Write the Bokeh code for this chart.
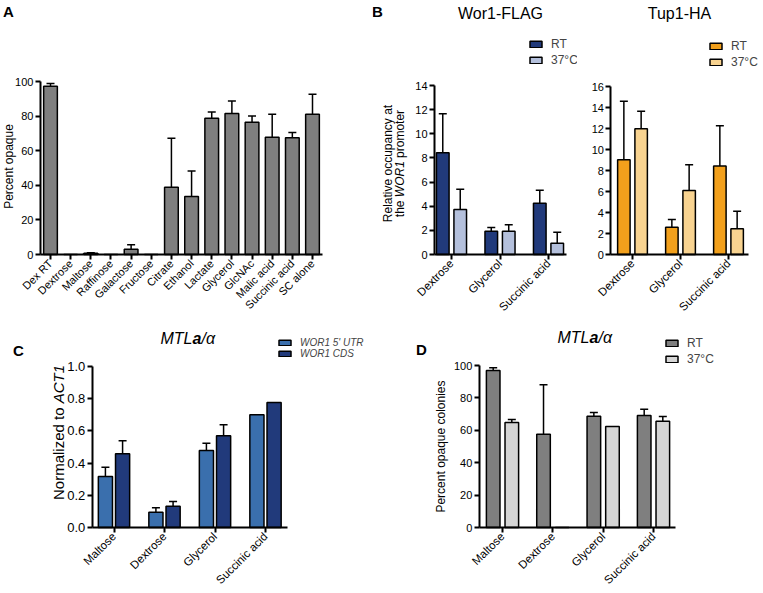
import numpy as np
from bokeh.plotting import figure
from bokeh.models import (Range1d, FixedTicker, Whisker, TeeHead, ColumnDataSource,
                          Legend, LegendItem, Label, NumeralTickFormatter)
from bokeh.layouts import row, column
from bokeh.embed import file_html
from bokeh.resources import INLINE

FONT = "Liberation Sans"

# ---------------- data ----------------
# Panel A
a_cats = ["Dex RT", "Dextrose", "Maltose", "Raffinose", "Galactose", "Fructose", "Citrate",
          "Ethanol", "Lactate", "Glycerol", "GlcNAc", "Malic acid", "Succinic acid", "SC alone"]
a_mean = [97.3, 0, 0.7, 0, 3.0, 0, 38.9, 33.5, 78.8, 81.5, 76.5, 67.8, 67.5, 81.1]
a_err = [1.5, 0, 0.3, 0, 2.6, 0, 28.3, 14.7, 3.5, 7.3, 3.5, 13.3, 3.0, 11.6]
a_yticks = [0, 20, 40, 60, 80, 100]

# Panel B
b_cats = ["Dextrose", "Glycerol", "Succinic acid"]
b_series = ["RT", "37°C"]
wor1_rt = [8.43, 1.93, 4.25]
wor1_rt_err = [3.23, 0.31, 1.08]
wor1_37 = [3.73, 1.93, 0.94]
wor1_37_err = [1.68, 0.53, 0.91]
tup1_rt = [9.02, 2.60, 8.44]
tup1_rt_err = [5.58, 0.73, 3.82]
tup1_37 = [11.97, 6.10, 2.45]
tup1_37_err = [1.68, 2.44, 1.67]
b1_yticks = [0, 2, 4, 6, 8, 10, 12, 14]
b2_yticks = [0, 2, 4, 6, 8, 10, 12, 14, 16]

# Panel C
c_cats = ["Maltose", "Dextrose", "Glycerol", "Succinic acid"]
c_series = ["WOR1 5' UTR", "WOR1 CDS"]
c_utr = [0.317, 0.095, 0.478, 0.700]
c_utr_err = [0.058, 0.027, 0.046, 0]
c_cds = [0.458, 0.132, 0.570, 0.776]
c_cds_err = [0.081, 0.029, 0.068, 0]
c_yticks = [0.0, 0.2, 0.4, 0.6, 0.8, 1.0]

# Panel D
d_cats = ["Maltose", "Dextrose", "Glycerol", "Succinic acid"]
d_series = ["RT", "37°C"]
d_rt = [96.9, 57.6, 68.7, 69.1]
d_rt_err = [1.7, 30.5, 2.3, 3.9]
d_37 = [64.8, 0, 62.3, 65.6]
d_37_err = [1.9, 0, 0, 2.9]
d_yticks = [0, 20, 40, 60, 80, 100]

# colours
GRAY = "#7f7f7f"
NAVY = "#213a7b"
LIGHT_BLUE = "#b4c0dc"
ORANGE = "#f2a01c"
LIGHT_ORANGE = "#f8d390"
MID_BLUE = "#3a6fad"
LIGHT_GRAY = "#d5d5d5"


class Panel:
    """A figure whose frame fills its whole box; page coordinates are used for placement."""

    def __init__(self, left, top, right, bottom, x_anchor, y_anchor, x_bounds, y_max,
                 yticks, cats, ytick_size="11px", xtick_size="11px"):
        self.left, self.top, self.right, self.bottom = left, top, right, bottom
        w, h = right - left, bottom - top
        (xa, pxa), (xb, pxb) = x_anchor
        sx = (pxb - pxa) / (xb - xa)
        x0 = xa - (pxa - left) / sx
        py0, py1 = y_anchor
        sy = (py0 - py1) / y_max
        y0 = -(bottom - py0) / sy
        p = figure(width=w, height=h, x_range=Range1d(x0, x0 + w / sx),
                   y_range=Range1d(y0, y0 + h / sy),
                   output_backend="svg", toolbar_location=None,
                   min_border_left=0, min_border_right=0,
                   min_border_top=0, min_border_bottom=0)
        p.outline_line_color = None
        p.xgrid.visible = False
        p.ygrid.visible = False
        for ax in (p.xaxis[0], p.yaxis[0]):
            ax.axis_line_width = 2
            ax.axis_line_color = "black"
            ax.major_tick_line_width = 2
            ax.major_tick_line_color = "black"
            ax.major_tick_out = 5
            ax.major_tick_in = 0
            ax.minor_tick_line_color = None
            ax.major_label_text_font = FONT
            ax.major_label_text_color = "black"
            ax.axis_label_text_font = FONT
            ax.axis_label_text_font_style = "normal"
            ax.axis_label_text_color = "black"
            ax.major_label_standoff = 2
        p.yaxis.fixed_location = x_bounds[0]
        p.yaxis.bounds = (0, y_max)
        p.yaxis.ticker = FixedTicker(ticks=yticks)
        p.yaxis.major_label_text_font_size = ytick_size
        p.xaxis.fixed_location = 0
        p.xaxis.bounds = x_bounds
        p.xaxis.ticker = FixedTicker(ticks=list(range(len(cats))))
        p.xaxis.major_label_overrides = {i: c for i, c in enumerate(cats)}
        p.xaxis.major_label_orientation = np.pi / 4
        p.xaxis.major_label_text_font_size = xtick_size
        self.p = p

    def bars(self, xs, vals, errs, width, color):
        p = self.p
        src = ColumnDataSource(dict(x=list(xs), top=list(vals)))
        r = p.vbar(x="x", top="top", width=width, bottom=0, source=src,
                   fill_color=color, line_color="black", line_width=1.5)
        keep = [e > 0 for e in errs]
        wsrc = ColumnDataSource(dict(
            x=[x for x, k in zip(xs, keep) if k],
            lo=[v for v, k in zip(vals, keep) if k],
            hi=[v + e for v, e, k in zip(vals, errs, keep) if k]))
        w = Whisker(source=wsrc, base="x", lower="lo", upper="hi", dimension="height",
                    line_width=1.5, line_color="black",
                    upper_head=TeeHead(size=8, line_width=1.5, line_color="black"),
                    lower_head=None, level="glyph")
        p.add_layout(w)
        return r

    def text(self, px, py, text, size, style="normal", align="left", angle=0.0):
        self.p.add_layout(Label(x=px - self.left, y=self.bottom - py,
                                x_units="screen", y_units="screen", text=text,
                                text_font=FONT, text_font_size=size, text_font_style=style,
                                text_align=align, text_baseline="middle", angle=angle,
                                text_color="black"))

    def legend(self, renderers, labels, px, py_bottom, size="12px", style="normal",
               gw=15, gh=8, lh=13, spacing=3):
        items = [LegendItem(label=l, renderers=[r]) for l, r in zip(labels, renderers)]
        leg = Legend(items=items, location=(px - self.left, self.bottom - py_bottom),
                     glyph_width=gw, glyph_height=gh, label_height=lh, label_standoff=8,
                     spacing=spacing, padding=0, margin=0, border_line_color=None,
                     background_fill_alpha=0, label_text_font=FONT,
                     label_text_font_size=size, label_text_font_style=style)
        self.p.add_layout(leg)


ROT = np.pi / 2

# ---------------- Panel A ----------------
A = Panel(0, 0, 372, 325, ((0, 50), (13, 312)), (254, 81), (-0.5, 13.5), 100,
          a_yticks, a_cats)
xa = np.arange(len(a_cats))
A.bars(xa, a_mean, a_err, 0.68, GRAY)
A.text(8, 166, "Percent opaque", "12px", align="center", angle=ROT)
A.text(8, 11, "A", "15px", style="bold", align="center")

# ---------------- Panel B (Wor1-FLAG) ----------------
B1 = Panel(372, 0, 577, 325, ((0, 451), (2, 548)), (254, 85), (-0.35, 2.37), 14,
           b1_yticks, b_cats, xtick_size="11.5px")
xb = np.arange(len(b_cats))
r1 = B1.bars(xb - 0.18, wor1_rt, wor1_rt_err, 0.26, NAVY)
r2 = B1.bars(xb + 0.18, wor1_37, wor1_37_err, 0.26, LIGHT_BLUE)
B1.legend([r1, r2], b_series, 528, 67, lh=13, spacing=2)
B1.text(500, 13, "Wor1-FLAG", "16px", align="center")
B1.text(377, 11, "B", "15px", style="bold", align="center")
B1.text(387, 163, "Relative occupancy at", "12px", align="center", angle=ROT)
B1.text(399, 216.7, "the", "12px", angle=ROT)
B1.text(399, 196.7, "WOR1", "12px", style="italic", angle=ROT)
B1.text(399, 157.4, "promoter", "12px", angle=ROT)

# ---------------- Panel B (Tup1-HA) ----------------
B2 = Panel(577, 0, 763, 325, ((0, 632), (2, 728)), (254, 86), (-0.45, 2.42), 16,
           b2_yticks, b_cats, xtick_size="11.5px")
r3 = B2.bars(xb - 0.18, tup1_rt, tup1_rt_err, 0.26, ORANGE)
r4 = B2.bars(xb + 0.18, tup1_37, tup1_37_err, 0.26, LIGHT_ORANGE)
B2.legend([r3, r4], b_series, 708, 69, lh=13, spacing=2)
B2.text(679, 13, "Tup1-HA", "16px", align="center")

# ---------------- Panel C ----------------
C = Panel(0, 325, 380, 593, ((0, 113.5), (3, 265)), (527, 366), (-0.43, 3.44), 1.0,
          c_yticks, c_cats, ytick_size="13px", xtick_size="11.5px")
C.p.yaxis.formatter = NumeralTickFormatter(format="0.0")
xc = np.arange(len(c_cats))
r5 = C.bars(xc - 0.17, c_utr, c_utr_err, 0.28, MID_BLUE)
r6 = C.bars(xc + 0.17, c_cds, c_cds_err, 0.28, NAVY)
C.legend([r5, r6], c_series, 277, 359, size="10px", style="italic",
         gw=15, gh=7, lh=10, spacing=0)
C.text(160, 338, "MTL", "16px", style="italic")
C.text(192, 338, "a", "16px", style="bold italic")
C.text(201, 338, "/α", "16px", style="italic")
C.text(18, 350, "C", "15px", style="bold", align="center")
C.text(57.5, 499.5, "Normalized to", "15px", angle=ROT)
C.text(57.5, 402.8, "ACT1", "15px", style="italic", angle=ROT)

# ---------------- Panel D ----------------
D = Panel(380, 325, 763, 593, ((0, 502), (3, 653)), (527, 365), (-0.46, 3.44), 100,
          d_yticks, d_cats, xtick_size="11.5px")
D.p.yaxis.axis_label = "Percent opaque colonies"
D.p.yaxis.axis_label_text_font_size = "12px"
D.p.yaxis.axis_label_standoff = 3
xd = np.arange(len(d_cats))
r7 = D.bars(xd - 0.185, d_rt, d_rt_err, 0.27, GRAY)
r8 = D.bars(xd + 0.185, d_37, d_37_err, 0.27, LIGHT_GRAY)
D.legend([r7, r8], d_series, 664, 366, lh=13, spacing=2)
D.text(557, 337, "MTL", "16px", style="italic")
D.text(589, 337, "a", "16px", style="bold italic")
D.text(598, 337, "/α", "16px", style="italic")
D.text(421, 349, "D", "15px", style="bold", align="center")

layout = column(row(A.p, B1.p, B2.p), row(C.p, D.p))
open("out.html", "w").write(file_html(layout, INLINE))
